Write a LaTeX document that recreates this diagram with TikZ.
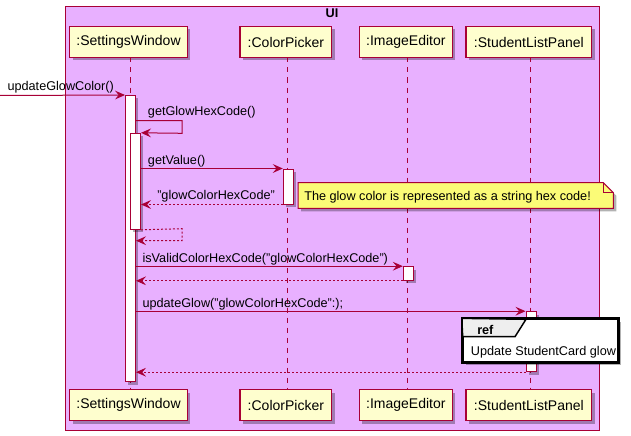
\documentclass[tikz,border=0pt]{standalone}
\usepackage{fontspec}
\setmainfont{Liberation Sans}
\usetikzlibrary{arrows.meta,shadows,fit}
\definecolor{bgui}{RGB}{232,176,255}
\definecolor{pborder}{RGB}{168,0,54}
\definecolor{pfill}{RGB}{254,254,206}
\definecolor{notefill}{RGB}{251,251,119}
\definecolor{tabfill}{RGB}{238,238,238}
\tikzset{
  shad/.style={drop shadow={shadow xshift=2.2pt,shadow yshift=-2.2pt,fill=black,opacity=0.3}},
  part/.style={draw=pborder,fill=pfill,line width=0.9pt,inner sep=0pt,shad,
    minimum height=23.25pt,minimum width=#1,anchor=center,
    font=\fontsize{10.5pt}{12pt}\selectfont},
  life/.style={draw=pborder,line width=0.75pt,dash pattern=on 3.75pt off 3.75pt},
  actbar/.style={draw=pborder,fill=white,line width=0.75pt,inner sep=0pt,shad},
  msg/.style={draw=pborder,line width=0.75pt,-{Stealth[length=7.5pt,width=6.6pt,inset=2.8pt]}},
  ret/.style={msg,dash pattern=on 1.5pt off 1.5pt},
  lbl/.style={inner sep=0pt,anchor=base west,font=\fontsize{9.5pt}{11pt}\selectfont},
}
\begin{document}
\begin{tikzpicture}[x=0.75pt,y=-0.75pt]
\useasboundingbox (0,0) rectangle (631,435);
% UI group box
\node[draw=pborder,fill=bgui,line width=0.75pt,inner sep=0pt,fit={(65.5,6.5)(599,430)}] (ui) {};
\node[inner sep=0pt,anchor=base,font=\fontsize{9.5pt}{11pt}\selectfont\bfseries] (uititle) at (332,17.8) {UI};
% participants
\node[part=88.2pt] (swT) at (128.5,42) {:SettingsWindow};
\node[part=68.8pt] (cpT) at (285.85,42) {:ColorPicker};
\node[part=69.75pt] (ieT) at (405.8,42) {:ImageEditor};
\node[part=94.3pt] (slT) at (528.85,42) {:StudentListPanel};
\node[part=88.2pt] (swB) at (128.5,405.3) {:SettingsWindow};
\node[part=68.8pt] (cpB) at (285.85,405.3) {:ColorPicker};
\node[part=69.75pt] (ieB) at (405.8,405.3) {:ImageEditor};
\node[part=94.3pt] (slB) at (528.85,405.3) {:StudentListPanel};
% lifelines
\coordinate (swL1) at (130.3,57.5); \coordinate (swL2) at (130.3,389.8);
\coordinate (cpL1) at (287,57.5); \coordinate (cpL2) at (287,389.8);
\coordinate (ieL1) at (407.3,57.5); \coordinate (ieL2) at (407.3,389.8);
\coordinate (slL1) at (530.3,57.5); \coordinate (slL2) at (530.3,389.8);
\draw[life] (swL1) -- (swL2);
\draw[life] (cpL1) -- (cpL2);
\draw[life] (ieL1) -- (ieL2);
\draw[life] (slL1) -- (slL2);
% activation bars
\node[actbar,fit={(125.5,95.5)(135.5,381.7)}] (a1) {};
\node[actbar,fit={(130.5,133.3)(140.5,229.3)}] (a2) {};
\node[actbar,fit={(283.3,169)(293.3,204)}] (a3) {};
\node[actbar,fit={(403.3,266.7)(413.3,280.3)}] (a4) {};
\node[actbar,fit={(526,311.7)(536,371.7)}] (a5) {};
% messages
\coordinate (start) at (0,95.5);
\draw[msg] (start) -- (a1.north west);
\node[lbl] (l0) at (7.3,90.5) {updateGlowColor()};
\coordinate (s1a) at (182,120.7); \coordinate (s1b) at (182,133.3);
\draw[msg] (a1.east |- s1a) -- (s1a) -- (s1b) -- (a2.north east);
\node[lbl] (l1) at (147.7,115.5) {getGlowHexCode()};
\draw[msg] (a2.east |- a3.north) -- (a3.north west);
\node[lbl] (l2) at (147.7,164.5) {getValue()};
\draw[ret] (a3.south west) -- (a2.east |- a3.south);
\node[lbl] (l3) at (157,199.5) {"glowColorHexCode"};
\coordinate (s2a) at (182,228.7); \coordinate (s2b) at (182,240.7);
\draw[ret] (a2.south east) -- (s2a) -- (s2b) -- (a1.east |- s2b);
\draw[msg] (a1.east |- a4.north) -- (a4.north west);
\node[lbl] (l5) at (142.3,262) {isValidColorHexCode("glowColorHexCode")};
\draw[ret] (a4.south west) -- (a1.east |- a4.south);
\draw[msg] (a1.east |- a5.north) -- (a5.north west);
\node[lbl] (l7) at (142.3,307) {updateGlow("glowColorHexCode":);};
\draw[ret] (a5.south west) -- (a1.east |- a5.south);
% note
\fill[black,opacity=0.3] (301,185.7) -- (606.3,185.7) -- (616.3,195.7) -- (616.3,211.3) -- (301,211.3) -- cycle;
\draw[pborder,fill=notefill,line width=0.75pt] (298,182.7) -- (603.3,182.7) -- (613.3,192.7) -- (613.3,208.3) -- (298,208.3) -- cycle;
\draw[pborder,line width=0.75pt] (603.3,182.7) -- (603.3,192.7) -- (613.3,192.7);
\node[lbl] (note) at (304,200) {The glow color is represented as a string hex code!};
% ref
\node[draw=black,fill=white,line width=1.4pt,inner sep=0pt,shad,fit={(462.7,319.3)(618.3,361.7)}] (ref) {};
\draw[black,fill=tabfill,line width=1.1pt] (ref.north west) -- (526,319.3) -- (515,336.7) -- (462.7,336.7) -- cycle;
\draw[black,line width=1.4pt] (ref.north west) rectangle (ref.south east);
\node[lbl,font=\fontsize{9.5pt}{11pt}\selectfont\bfseries] (reft) at (477,334.5) {ref};
\node[lbl] (refb) at (470.7,355) {Update StudentCard glow};
\end{tikzpicture}
\end{document}
